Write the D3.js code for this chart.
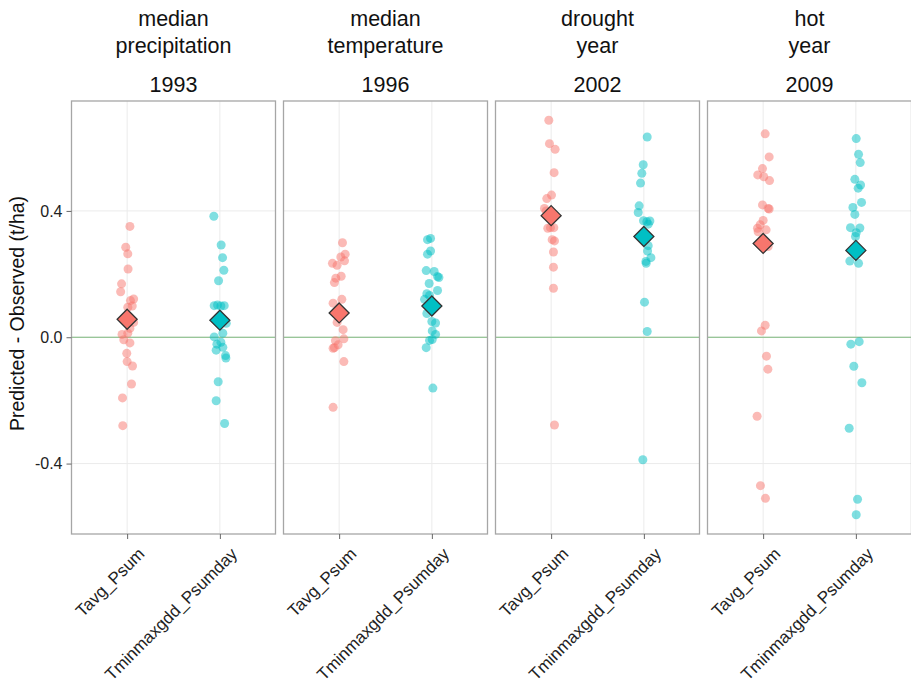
<!DOCTYPE html>
<html>
<head>
<meta charset="utf-8">
<script src="https://cdn.jsdelivr.net/npm/d3@7"></script>
<style>
  body { margin: 0; background: #fff; }
  svg { display: block; font-family: "Liberation Sans", Arial, sans-serif; }
</style>
</head>
<body>
<div id="chart"></div>
<script>

// facet strips
const stripTop = ["median", "median", "drought", "hot"];
const stripMid = ["precipitation", "temperature", "year", "year"];
const years = ["1993", "1996", "2002", "2009"];
const models = ["Tavg_Psum", "Tminmaxgdd_Psumday"];
const yTicks = [-0.4, 0.0, 0.4];

// Tavg_Psum points per year (Predicted - Observed, t/ha)
const tavg1993 = [0.351, 0.285, 0.264, 0.216, 0.169, 0.144, 0.116, 0.121, 0.099, 0.095, 0.047, 0.028, 0.009, 0.013, -0.008, -0.018, -0.051, -0.077, -0.091, -0.148, -0.192, -0.280];
const tavg1996 = [0.299, 0.263, 0.254, 0.242, 0.234, 0.228, 0.193, 0.187, 0.173, 0.120, 0.108, 0.047, 0.024, -0.005, -0.011, -0.024, -0.035, -0.033, -0.077, -0.222];
const tavg2002 = [0.687, 0.613, 0.595, 0.521, 0.439, 0.450, 0.408, 0.400, 0.345, 0.347, 0.347, 0.309, 0.305, 0.270, 0.222, 0.155, -0.278];
const tavg2009 = [0.644, 0.571, 0.534, 0.514, 0.508, 0.496, 0.419, 0.408, 0.406, 0.370, 0.356, 0.345, 0.340, 0.334, 0.287, 0.038, 0.020, -0.060, -0.101, -0.250, -0.470, -0.510];

// Tminmaxgdd_Psumday points per year
const tmin1993 = [0.383, 0.292, 0.252, 0.212, 0.179, 0.100, 0.102, 0.099, 0.100, 0.044, 0.013, 0.001, -0.016, -0.022, -0.032, -0.041, -0.058, -0.066, -0.141, -0.201, -0.273];
const tmin1996 = [0.309, 0.313, 0.273, 0.263, 0.211, 0.208, 0.192, 0.189, 0.170, 0.148, 0.138, 0.132, 0.120, 0.075, 0.050, 0.045, 0.020, 0.009, -0.007, -0.010, -0.033, -0.161];
const tmin2002 = [0.634, 0.546, 0.519, 0.488, 0.416, 0.395, 0.369, 0.366, 0.368, 0.358, 0.290, 0.273, 0.252, 0.234, 0.240, 0.111, 0.018, -0.388];
const tmin2009 = [0.629, 0.579, 0.553, 0.500, 0.482, 0.472, 0.427, 0.411, 0.389, 0.347, 0.346, 0.331, 0.319, 0.241, 0.234, -0.014, -0.022, -0.092, -0.144, -0.288, -0.513, -0.562];

// horizontal jitter (fraction of category step)
const jitTavg1993 = [0.03, -0.015, 0.007, 0.01, -0.06, -0.07, 0.036, 0.07, 0.055, 0.007, 0.07, 0.03, -0.055, 0.007, -0.036, 0.03, -0.004, 0, 0.058, 0.047, -0.05, -0.047];
const jitTavg1996 = [0.036, 0.065, 0.018, 0.058, -0.072, -0.022, 0.022, -0.036, -0.051, 0.029, -0.065, -0.022, 0.043, 0.051, -0.04, -0.011, -0.065, -0.051, 0.051, -0.065];
const jitTavg2002 = [-0.025, -0.018, 0.043, 0.032, -0.047, 0.004, -0.072, -0.054, -0.036, -0.007, 0.029, 0.011, 0.036, 0.025, 0.025, 0.025, 0.036];
const jitTavg2009 = [0.022, 0.065, -0.007, -0.058, 0.007, 0.069, -0.007, 0.054, 0.065, 0, -0.032, -0.061, 0.032, -0.054, 0.054, 0.022, -0.018, 0.036, 0.051, -0.065, -0.029, 0.025];
const jitTmin1993 = [-0.065, 0.014, 0.029, 0.043, -0.014, -0.061, -0.025, 0.011, 0.047, 0.069, 0.032, -0.061, 0.011, -0.032, 0.032, -0.04, 0.061, 0.065, -0.018, -0.04, 0.051];
const jitTmin1996 = [-0.047, -0.014, -0.014, -0.047, -0.061, 0.025, 0.061, 0.076, -0.029, 0.061, -0.054, -0.025, -0.079, -0.054, 0, 0.04, 0.004, 0.04, 0.004, -0.025, -0.061, 0.011];
const jitTmin2002 = [0.036, -0.007, -0.022, -0.036, -0.051, -0.061, -0.004, 0.032, 0.065, 0.047, 0.047, 0.04, 0.076, 0.025, 0.022, 0.007, 0.036, -0.011];
const jitTmin2009 = [0.004, 0.029, 0.047, -0.011, 0.051, 0.025, 0.061, -0.032, -0.011, -0.058, 0.043, 0.004, -0.004, -0.065, 0.029, 0.036, -0.054, -0.022, 0.065, -0.072, 0.018, 0.004];

// mean markers (diamonds)
const meanTavg = [0.057, 0.077, 0.385, 0.297];
const meanTmin = [0.054, 0.099, 0.319, 0.275];

const colours = ["#F8766D", "#00BFC4"];

//--------------------------------------
// LAYOUT
//--------------------------------------

const W = 911, H = 688;
const panelTop = 101, panelBottom = 534;
const panelW = 204, panelStep = 212, firstLeft = 71.5;

const panels = years.map(function (yr, i) {
  return {
    year: yr,
    top: stripTop[i],
    mid: stripMid[i],
    series: [
      { values: [tavg1993, tavg1996, tavg2002, tavg2009][i], jit: [jitTavg1993, jitTavg1996, jitTavg2002, jitTavg2009][i], mean: meanTavg[i] },
      { values: [tmin1993, tmin1996, tmin2002, tmin2009][i], jit: [jitTmin1993, jitTmin1996, jitTmin2002, jitTmin2009][i], mean: meanTmin[i] }
    ]
  };
});

const svg = d3.select("#chart").append("svg")
  .attr("width", W)
  .attr("height", H);

const y = d3.scaleLinear()
  .domain([-0.623, 0.748])
  .range([panelBottom, panelTop]);

const x = d3.scalePoint()
  .domain(models)
  .range([0, panelW])
  .padding(0.6);

svg.append("clipPath").attr("id", "panelClip")
  .append("rect")
  .attr("x", 0).attr("y", panelTop)
  .attr("width", panelW).attr("height", panelBottom - panelTop);

panels.forEach(function (p, i) {

  const g = svg.append("g")
    .attr("transform", "translate(" + (firstLeft + i * panelStep) + ",0)");

  // gridlines
  g.selectAll("line.hgrid")
    .data(yTicks)
    .enter().append("line")
    .attr("class", "hgrid")
    .attr("x1", 0).attr("x2", panelW)
    .attr("y1", function (d) { return y(d); })
    .attr("y2", function (d) { return y(d); })
    .attr("stroke", "#ebebeb")
    .attr("stroke-width", 1);

  g.selectAll("line.vgrid")
    .data(models)
    .enter().append("line")
    .attr("class", "vgrid")
    .attr("x1", function (d) { return x(d); })
    .attr("x2", function (d) { return x(d); })
    .attr("y1", panelTop).attr("y2", panelBottom)
    .attr("stroke", "#ebebeb")
    .attr("stroke-width", 1);

  // zero line
  g.append("line")
    .attr("x1", 0).attr("x2", panelW)
    .attr("y1", y(0)).attr("y2", y(0))
    .attr("stroke", "#7cb87c")
    .attr("stroke-width", 1.2);

  const plot = g.append("g").attr("clip-path", "url(#panelClip)");

  p.series.forEach(function (s, k) {
    const cx = x(models[k]);
    const pts = s.values.map(function (v, j) { return { v: v, j: s.jit[j] }; });

    plot.selectAll("circle.s" + k)
      .data(pts)
      .enter().append("circle")
      .attr("class", "s" + k)
      .attr("cx", function (d) { return cx + d.j * x.step(); })
      .attr("cy", function (d) { return y(d.v); })
      .attr("r", 4.5)
      .attr("fill", colours[k])
      .attr("fill-opacity", 0.5);
  });

  p.series.forEach(function (s, k) {
    const cx = x(models[k]);
    const cy = y(s.mean);
    const r = 10;
    plot.append("path")
      .attr("d", "M" + cx + "," + (cy - r) + "L" + (cx + r) + "," + cy + "L" + cx + "," + (cy + r) + "L" + (cx - r) + "," + cy + "Z")
      .attr("fill", colours[k])
      .attr("stroke", "#333333")
      .attr("stroke-width", 1.3);
  });

  // panel border
  g.append("rect")
    .attr("x", 0).attr("y", panelTop)
    .attr("width", panelW).attr("height", panelBottom - panelTop)
    .attr("fill", "none")
    .attr("stroke", "#a6a6a6")
    .attr("stroke-width", 1.3);

  // x axis
  const xa = g.append("g")
    .attr("transform", "translate(0," + panelBottom + ")")
    .call(d3.axisBottom(x).tickSize(5).tickPadding(0));
  xa.select(".domain").remove();
  xa.selectAll(".tick line").attr("stroke", "#666");
  xa.selectAll(".tick text")
    .attr("font-size", 17)
    .attr("fill", "#222")
    .attr("text-anchor", "end")
    .attr("x", 0).attr("y", 0).attr("dy", 0)
    .attr("transform", "translate(18,21) rotate(-45)");

  // strip text
  const cxPanel = panelW / 2;
  g.append("text").attr("x", cxPanel).attr("y", 26)
    .attr("text-anchor", "middle").attr("font-size", 21.5).attr("fill", "#111")
    .text(p.top);
  g.append("text").attr("x", cxPanel).attr("y", 53)
    .attr("text-anchor", "middle").attr("font-size", 21.5).attr("fill", "#111")
    .text(p.mid);
  g.append("text").attr("x", cxPanel).attr("y", 92)
    .attr("text-anchor", "middle").attr("font-size", 21.5).attr("fill", "#111")
    .text(p.year);
});

// y axis
const ya = svg.append("g")
  .attr("transform", "translate(" + firstLeft + ",0)")
  .call(d3.axisLeft(y).tickValues(yTicks)
    .tickFormat(function (d) { return d3.format(".1f")(d).replace("\u2212", "-"); })
    .tickSize(5).tickPadding(4));
ya.select(".domain").remove();
ya.selectAll(".tick line").attr("stroke", "#666");
ya.selectAll(".tick text").attr("font-size", 16).attr("fill", "#222");

svg.append("text")
  .attr("transform", "translate(24," + ((panelTop + panelBottom) / 2 - 4) + ") rotate(-90)")
  .attr("text-anchor", "middle")
  .attr("font-size", 19.5)
  .attr("fill", "#111")
  .text("Predicted - Observed (t/ha)");

</script>
</body>
</html>
